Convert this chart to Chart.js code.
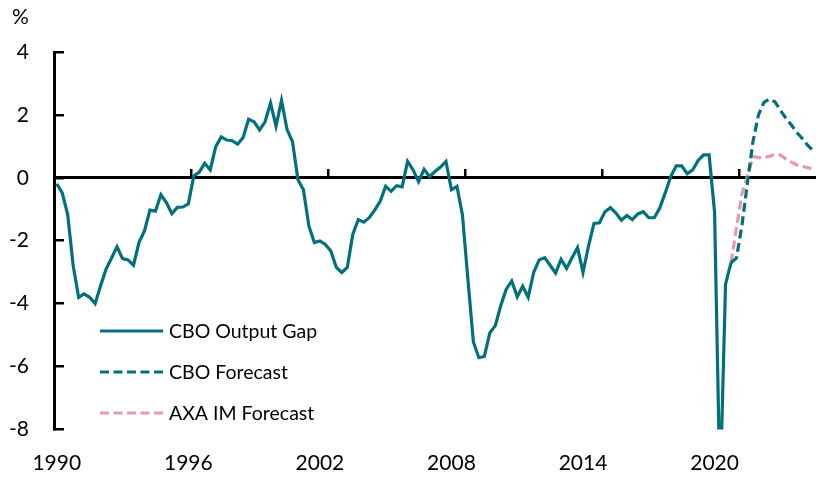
<!DOCTYPE html>
<html>
<head>
<meta charset="utf-8">
<script src="https://cdn.jsdelivr.net/npm/chart.js@4.4.1/dist/chart.umd.min.js"></script>
<style>
html,body{margin:0;padding:0;background:#fff;overflow:hidden}
#wrap{position:relative;width:816px;height:477px;background:#fff}
</style>
</head>
<body>
<div id="wrap"><canvas id="c" width="816" height="477"></canvas></div>
<script>
// Quarterly series, index 0 = 1990 Q1
const yearLabels = ['1990', '1996', '2002', '2008', '2014', '2020'];
const yearLabelIdx = [0, 24, 48, 72, 96, 120];
const xTickMarkIdx = [-0.5, 24.5, 49.5, 74.5, 99.5, 124.5];
const yTickValues = [4, 2, 0, -2, -4, -6, -8];

const cboOutputGap = [
  -0.19, -0.48, -1.17, -2.8, -3.8, -3.69, -3.8, -4.0, -3.43, -2.9,
  -2.55, -2.19, -2.57, -2.61, -2.78, -2.06, -1.69, -1.03, -1.06, -0.54,
  -0.79, -1.14, -0.94, -0.93, -0.83, 0.06, 0.18, 0.46, 0.25, 0.99,
  1.30, 1.2, 1.18, 1.07, 1.28, 1.86, 1.78, 1.52, 1.78, 2.38,
  1.64, 2.46, 1.54, 1.15, -0.06, -0.38, -1.54, -2.06, -2.01, -2.12,
  -2.33, -2.85, -3.01, -2.85, -1.8, -1.33, -1.41, -1.27, -1.03, -0.75,
  -0.27, -0.43, -0.25, -0.29, 0.52, 0.25, -0.12, 0.27, 0.04, 0.2,
  0.34, 0.52, -0.38, -0.27, -1.17, -3.22, -5.22, -5.72, -5.68, -4.93,
  -4.7, -4.06, -3.54, -3.28, -3.78, -3.45, -3.8, -3.01, -2.61, -2.54,
  -2.78, -3.03, -2.59, -2.88, -2.54, -2.22, -3.01, -2.17, -1.45, -1.43,
  -1.08, -0.95, -1.12, -1.35, -1.2, -1.33, -1.15, -1.08, -1.27, -1.27,
  -0.96, -0.48, 0.04, 0.38, 0.38, 0.13, 0.25, 0.55, 0.73, 0.73,
  -1.1, -10.0, -3.38, -2.7
];
const forecastStartIdx = 123;
const cboForecast = [-2.7, -2.55, -1.5, -0.15, 1.15, 2.0, 2.4, 2.5, 2.42, 2.15, 1.9, 1.68, 1.44, 1.25, 1.03, 0.86];
const axaForecast = [-2.7, -1.6, -0.5, 0.05, 0.68, 0.64, 0.64, 0.68, 0.74, 0.72, 0.6, 0.5, 0.41, 0.36, 0.32, 0.28];

const TEAL = '#00717C';
const PINK = '#E79AAF';
const FONT = 'Lato';

const toPts = (arr, start) => arr.map((v, k) => ({x: start + k, y: v}));

const insideLegend = {
  id: 'insideLegend',
  afterDraw(chart, args, opts) {
    const ctx = chart.ctx;
    ctx.save();
    chart.data.datasets.forEach((ds, k) => {
      const y = opts.top + k * opts.rowGap;
      ctx.strokeStyle = ds.borderColor;
      ctx.lineWidth = ds.borderWidth;
      ctx.setLineDash(ds.borderDash || []);
      ctx.beginPath();
      ctx.moveTo(opts.left, y);
      ctx.lineTo(opts.left + opts.sample, y);
      ctx.stroke();
      ctx.setLineDash([]);
      ctx.fillStyle = '#000';
      ctx.font = opts.fontSize + 'px ' + FONT;
      ctx.textBaseline = 'middle';
      ctx.textAlign = 'left';
      ctx.fillText(ds.label, opts.left + opts.sample + opts.gap, y + 1);
    });
    ctx.font = opts.unitSize + 'px ' + FONT;
    ctx.textBaseline = 'middle';
    ctx.fillText(opts.unit, opts.unitX, opts.unitY);
    ctx.restore();
  }
};

new Chart(document.getElementById('c'), {
  type: 'line',
  data: {
    datasets: [
      {label: 'CBO Output Gap', data: toPts(cboOutputGap, 0), borderColor: TEAL, borderWidth: 3.2, pointRadius: 0, tension: 0, xAxisID: 'x', yAxisID: 'y'},
      {label: 'CBO Forecast', data: toPts(cboForecast, forecastStartIdx), borderColor: TEAL, borderWidth: 3.2, borderDash: [9, 4.5], pointRadius: 0, tension: 0, xAxisID: 'x', yAxisID: 'y'},
      {label: 'AXA IM Forecast', data: toPts(axaForecast, forecastStartIdx), borderColor: PINK, borderWidth: 3.2, borderDash: [9, 4.5], pointRadius: 0, tension: 0, xAxisID: 'x', yAxisID: 'y'}
    ]
  },
  options: {
    responsive: false,
    animation: false,
    devicePixelRatio: 1,
    layout: {padding: {top: 52, right: 0, left: 0, bottom: 0}},
    plugins: {
      legend: {display: false},
      tooltip: {enabled: false},
      insideLegend: {left: 100, top: 331, rowGap: 41, sample: 63, gap: 6, fontSize: 19.5, unit: '%', unitX: 12, unitY: 17, unitSize: 21}
    },
    scales: {
      y: {
        type: 'linear', position: 'left', min: -8, max: 4,
        afterBuildTicks: s => { s.ticks = yTickValues.map(v => ({value: v})); },
        afterFit: s => { s.width = 54; },
        ticks: {color: '#000', font: {family: FONT, size: 21}, padding: 35},
        grid: {display: true, drawOnChartArea: false, drawTicks: true, tickLength: -10, color: '#000', lineWidth: 2.5},
        border: {display: true, color: '#000', width: 3}
      },
      x: {
        type: 'linear', position: {y: 0}, min: -0.5, max: 138.5,
        afterBuildTicks: s => { s.ticks = xTickMarkIdx.map(v => ({value: v})); },
        ticks: {display: false},
        grid: {display: true, drawOnChartArea: false, drawTicks: true, tickLength: -10, color: '#000', lineWidth: 2.5},
        border: {display: true, color: '#000', width: 3}
      },
      xl: {
        type: 'linear', position: 'bottom', min: -0.5, max: 138.5,
        afterBuildTicks: s => { s.ticks = yearLabelIdx.map(v => ({value: v})); },
        afterFit: s => { s.height = 45; },
        ticks: {color: '#000', font: {family: FONT, size: 21}, padding: 13, maxRotation: 0, autoSkip: false,
          callback: (v) => { const k = yearLabelIdx.indexOf(v); return k >= 0 ? yearLabels[k] : ''; }},
        grid: {display: false},
        border: {display: false}
      }
    }
  },
  plugins: [insideLegend]
});
</script>
</body>
</html>
